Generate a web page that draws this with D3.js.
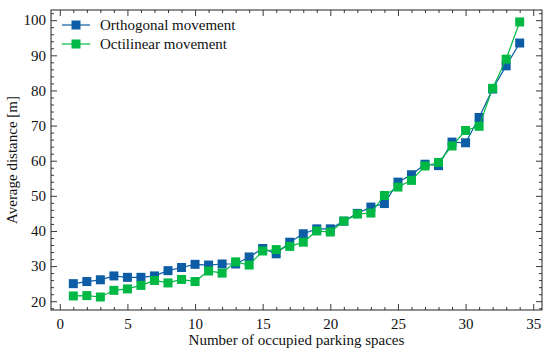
<!DOCTYPE html>
<html>
<head>
<meta charset="utf-8">
<script src="https://cdn.jsdelivr.net/npm/d3@7"></script>
<style>
  body { margin: 0; background: #fff; }
  text { font-family: "Liberation Serif", "DejaVu Serif", serif; }
</style>
</head>
<body>
<div id="chart"></div>
<script>
// Data
const spaces = d3.range(1, 35);
const orthogonal = [25.0, 25.6, 26.1, 27.2, 26.8, 26.8, 27.2, 28.7, 29.6, 30.5,
  30.3, 30.6, 30.6, 32.6, 35.0, 33.5, 36.8, 39.2, 40.6, 40.6,
  42.8, 45.0, 46.8, 47.8, 53.9, 56.0, 59.0, 58.6, 65.3, 65.1,
  72.3, 80.4, 87.0, 93.5];
const octilinear = [21.5, 21.6, 21.2, 23.1, 23.5, 24.5, 25.9, 25.2, 26.2, 25.6,
  28.6, 28.0, 31.2, 30.3, 34.3, 34.7, 35.6, 36.8, 40.0, 39.7,
  42.8, 44.8, 45.1, 50.1, 52.5, 54.4, 58.5, 59.5, 64.2, 68.6,
  69.8, 80.6, 88.9, 99.5];
const seriesNames = ["Orthogonal movement", "Octilinear movement"];
const seriesColors = ["#0C5DA5", "#00B945"];
const xTicks = [0, 5, 10, 15, 20, 25, 30, 35];
const yTicks = [20, 30, 40, 50, 60, 70, 80, 90, 100];

const WIDTH = 550;
const HEIGHT = 351;
const MARGIN = { left: 51, right: 8, top: 10, bottom: 41 };
const MAJOR = 6;
const MINOR = 3;
const MARKER = 9;
const FONT = 15;

const svg = d3
  .select("#chart")
  .append("svg")
  .attr("width", WIDTH)
  .attr("height", HEIGHT);

const innerW = WIDTH - MARGIN.left - MARGIN.right;
const innerH = HEIGHT - MARGIN.top - MARGIN.bottom;

const g = svg.append("g").attr("transform", `translate(${MARGIN.left}, ${MARGIN.top})`);

const x = d3.scaleLinear().domain([-0.65, 35.65]).range([0, innerW]);
const y = d3.scaleLinear().domain([17.5, 102.9]).range([innerH, 0]);

// inward ticks on all four sides
function drawTicks(axisFn, scale, values, size, transform, labels) {
  const ax = g
    .append("g")
    .attr("transform", transform)
    .call(
      axisFn(scale)
        .tickValues(values)
        .tickSizeInner(-size)
        .tickSizeOuter(0)
        .tickFormat(labels ? d3.format("d") : "")
    );
  ax.select(".domain").remove();
  ax.selectAll("line").attr("stroke", "#222").attr("stroke-width", 0.9);
  ax.selectAll("text").attr("fill", "#111").attr("font-size", FONT);
  return ax;
}

const xMinor = d3.range(0, 36, 1).filter((d) => d % 5 !== 0);
const yMinor = d3.range(18, 104, 2).filter((d) => d % 10 !== 0);

const xb = drawTicks(d3.axisBottom, x, xTicks, MAJOR, `translate(0, ${innerH})`, true);
xb.selectAll("text").attr("dy", "1em").attr("y", 4);
drawTicks(d3.axisBottom, x, xMinor, MINOR, `translate(0, ${innerH})`, false);
drawTicks(d3.axisTop, x, xTicks, MAJOR, "translate(0, 0)", false);
drawTicks(d3.axisTop, x, xMinor, MINOR, "translate(0, 0)", false);

const yl = drawTicks(d3.axisLeft, y, yTicks, MAJOR, "translate(0, 0)", true);
yl.selectAll("text").attr("x", -5);
drawTicks(d3.axisLeft, y, yMinor, MINOR, "translate(0, 0)", false);
drawTicks(d3.axisRight, y, yTicks, MAJOR, `translate(${innerW}, 0)`, false);
drawTicks(d3.axisRight, y, yMinor, MINOR, `translate(${innerW}, 0)`, false);

// frame
g.append("rect")
  .attr("width", innerW)
  .attr("height", innerH)
  .attr("fill", "none")
  .attr("stroke", "#222")
  .attr("stroke-width", 1);

// series
const line = d3
  .line()
  .x((d, i) => x(spaces[i]))
  .y((d) => y(d));

[orthogonal, octilinear].forEach((values, k) => {
  const s = g.append("g");
  s.append("path")
    .datum(values)
    .attr("d", line)
    .attr("fill", "none")
    .attr("stroke", seriesColors[k])
    .attr("stroke-width", 1.2);
  s.selectAll("rect")
    .data(values)
    .enter()
    .append("rect")
    .attr("x", (d, i) => x(spaces[i]) - MARKER / 2)
    .attr("y", (d) => y(d) - MARKER / 2)
    .attr("width", MARKER)
    .attr("height", MARKER)
    .attr("fill", seriesColors[k]);
});

// legend
const legend = g.append("g").attr("transform", "translate(11, 15)");
seriesNames.forEach((name, k) => {
  const row = legend.append("g").attr("transform", `translate(0, ${k * 19})`);
  row.append("line")
    .attr("x1", 0)
    .attr("x2", 28)
    .attr("stroke", seriesColors[k])
    .attr("stroke-width", 1.2);
  row.append("rect")
    .attr("x", 14 - MARKER / 2)
    .attr("y", -MARKER / 2)
    .attr("width", MARKER)
    .attr("height", MARKER)
    .attr("fill", seriesColors[k]);
  row.append("text")
    .attr("x", 38)
    .attr("dy", "0.35em")
    .attr("font-size", FONT)
    .attr("fill", "#111")
    .text(name);
});

// axis labels
svg.append("text")
  .attr("x", MARGIN.left + innerW / 2)
  .attr("y", 345)
  .attr("text-anchor", "middle")
  .attr("font-size", FONT)
  .attr("fill", "#111")
  .text("Number of occupied parking spaces");

svg.append("text")
  .attr("transform", `translate(17, ${MARGIN.top + innerH / 2}) rotate(-90)`)
  .attr("text-anchor", "middle")
  .attr("font-size", FONT)
  .attr("fill", "#111")
  .text("Average distance [m]");
</script>
</body>
</html>
